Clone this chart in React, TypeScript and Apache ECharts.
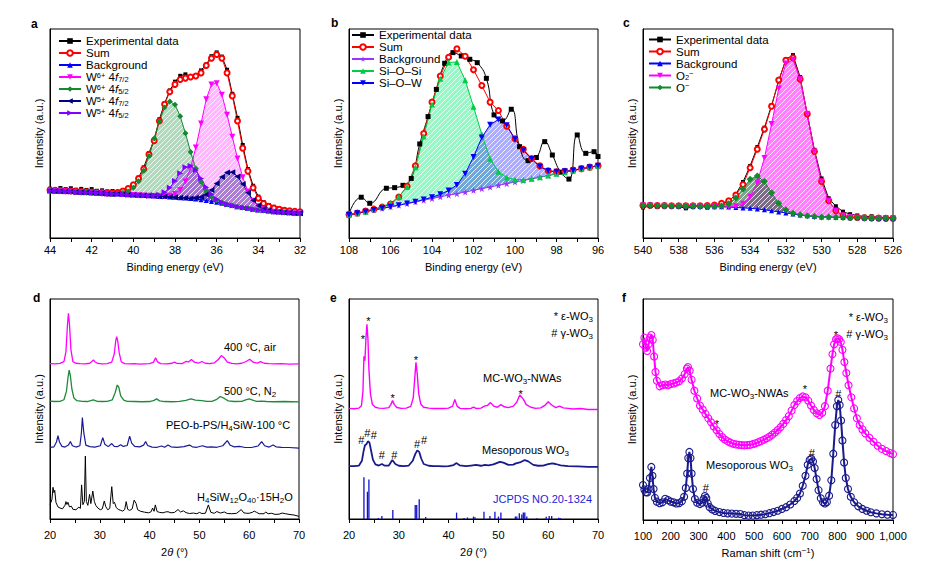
import React, { useEffect, useRef } from "react";
import * as echarts from "echarts";

// ---------------- Panel a : W 4f XPS ----------------
const aX = [44, 43.75, 43.5, 43.25, 43, 42.75, 42.5, 42.25, 42, 41.75, 41.5, 41.25, 41, 40.75, 40.5, 40.25, 40, 39.75, 39.5, 39.25, 39, 38.75, 38.5, 38.25, 38, 37.75, 37.5, 37.25, 37, 36.75, 36.5, 36.25, 36, 35.75, 35.5, 35.25, 35, 34.75, 34.5, 34.25, 34, 33.75, 33.5, 33.25, 33, 32.75, 32.5, 32.25, 32];
const aExp = [23.6, 23.2, 23.9, 23.4, 23.8, 23.1, 23.5, 23.0, 23.4, 22.6, 22.8, 22.3, 22.5, 22.2, 22.9, 24.0, 25.8, 28.9, 33.8, 40.6, 47.2, 56.8, 64.4, 70.6, 74.8, 77.6, 78.3, 77.2, 77.9, 80.2, 83.0, 87.0, 88.8, 86.8, 80.5, 69.0, 57.5, 44.5, 33.0, 25.0, 19.8, 17.2, 15.8, 14.9, 14.2, 13.7, 13.3, 13.0, 12.8];
const aSum = [22.9, 22.8, 22.7, 22.6, 22.5, 22.3, 22.2, 22.1, 22.0, 21.8, 21.7, 21.6, 21.5, 21.8, 22.5, 23.7, 25.5, 28.5, 33.0, 40.0, 46.5, 56.0, 64.0, 70.0, 73.5, 75.8, 76.5, 77.0, 77.5, 79.0, 82.5, 86.0, 87.8, 86.0, 79.0, 68.0, 56.0, 43.0, 32.0, 24.0, 19.0, 16.5, 15.2, 14.3, 13.7, 13.3, 13.0, 12.8, 12.6];
const aBg = [22.6, 22.5, 22.4, 22.3, 22.2, 22.0, 21.9, 21.8, 21.7, 21.5, 21.4, 21.2, 21.1, 21.0, 20.9, 20.7, 20.6, 20.5, 20.3, 20.2, 20.1, 19.9, 19.8, 19.6, 19.5, 19.3, 19.1, 18.9, 18.7, 18.3, 17.9, 17.5, 17.1, 16.6, 16.0, 15.5, 15.0, 14.6, 14.2, 13.8, 13.4, 13.1, 12.9, 12.6, 12.4, 12.2, 12.1, 11.9, 11.8];
// component heights above the background
const aW6f72 = [0, 0, 0, 0, 0, 0, 0, 0, 0, 0, 0, 0, 0, 0, 0, 0, 0, 0, 0, 0, 0, 0, 0.2, 0.6, 1.5, 3.7, 7.9, 14.8, 24.6, 36.5, 48.5, 56.0, 57.0, 52.0, 43.0, 33.0, 23.0, 14.5, 8.0, 4.0, 1.8, 0.7, 0, 0, 0, 0, 0, 0, 0];
const aW6f52 = [0, 0, 0, 0, 0, 0, 0, 0, 0, 0, 0, 0, 0, 0.3, 0.7, 1.6, 3.4, 6.7, 11.9, 19.0, 27.5, 36.0, 42.6, 45.7, 44.3, 39.0, 31.0, 22.3, 14.5, 8.5, 4.5, 2.2, 1.0, 0.4, 0, 0, 0, 0, 0, 0, 0, 0, 0, 0, 0, 0, 0, 0, 0];
const aW5f72 = [0, 0, 0, 0, 0, 0, 0, 0, 0, 0, 0, 0, 0, 0, 0, 0, 0, 0, 0, 0, 0, 0, 0, 0, 0, 0, 0, 0, 0.5, 1.3, 2.9, 5.5, 9.0, 12.6, 15.3, 16.0, 14.4, 11.2, 7.5, 4.3, 2.2, 0.9, 0.3, 0, 0, 0, 0, 0, 0];
const aW5f52 = [0, 0, 0, 0, 0, 0, 0, 0, 0, 0, 0, 0, 0, 0, 0, 0, 0, 0, 0, 0, 0.3, 0.8, 2.1, 4.4, 7.8, 11.7, 14.7, 15.5, 13.7, 10.2, 6.4, 3.4, 1.5, 0.5, 0.2, 0, 0, 0, 0, 0, 0, 0, 0, 0, 0, 0, 0, 0, 0];

// ---------------- Panel b : Si 2p XPS ----------------
const bX = [108, 107.6, 107.2, 106.8, 106.4, 106, 105.6, 105.2, 104.8, 104.4, 104, 103.6, 103.2, 102.8, 102.4, 102, 101.6, 101.2, 100.8, 100.4, 100, 99.6, 99.2, 98.8, 98.4, 98, 97.6, 97.2, 96.8, 96.4, 96];
const bExpPts = [[108, 11.5], [107.41, 19.5], [107.0, 16.6], [106.2, 23.8], [105.8, 24.1], [105.4, 25.2], [105.0, 28.5], [104.59, 45.0], [104.19, 58.1], [103.79, 71.1], [103.39, 83.6], [102.99, 88.7], [102.59, 87.1], [102.18, 85.5], [101.82, 83.9], [101.38, 76.4], [101.01, 58.9], [100.6, 56.0], [100.18, 61.6], [99.78, 43.7], [99.37, 37.0], [98.97, 38.5], [98.57, 46.1], [98.2, 39.7], [97.8, 31.5], [97.4, 28.2], [97.0, 49.3], [96.59, 40.5], [96.19, 41.3], [96.0, 39.0]];
const bSum = [11.2, 12.0, 12.9, 13.8, 14.8, 16.2, 19.6, 24.8, 34.5, 50.0, 65.0, 77.5, 86.5, 90.5, 87.0, 80.5, 73.0, 65.0, 61.0, 53.5, 47.5, 42.5, 38.0, 34.5, 32.2, 31.7, 31.9, 32.5, 33.2, 33.9, 34.6];
const bBg = [11.0, 11.8, 12.6, 13.4, 14.2, 14.9, 15.7, 16.5, 17.3, 18.1, 18.9, 19.7, 20.5, 21.2, 22.0, 22.8, 23.6, 24.4, 25.2, 26.0, 26.8, 27.5, 28.3, 29.1, 29.9, 30.7, 31.5, 32.3, 33.1, 33.8, 34.6];
const bSiOSi = [0, 0, 0, 0.3, 0.8, 1.8, 4.0, 8.0, 16.5, 30.5, 45.0, 56.5, 63.5, 63.0, 53.5, 40.0, 26.0, 13.5, 6.5, 3.0, 1.2, 0.4, 0, 0, 0, 0, 0, 0, 0, 0, 0];
const bSiOW = [0, 0, 0, 0, 0, 0, 0, 0, 0, 0.3, 0.6, 1.2, 2.2, 4.2, 8.8, 16.0, 24.5, 29.8, 31.5, 28.0, 20.5, 14.5, 9.5, 5.0, 2.2, 1.0, 0.4, 0, 0, 0, 0];

// ---------------- Panel c : O 1s XPS ----------------
const cX = [540, 539.6, 539.2, 538.8, 538.4, 538, 537.6, 537.2, 536.8, 536.4, 536, 535.6, 535.2, 534.8, 534.4, 534, 533.6, 533.2, 532.8, 532.4, 532, 531.6, 531.2, 530.8, 530.4, 530, 529.6, 529.2, 528.8, 528.4, 528, 527.6, 527.2, 526.8, 526.4, 526];
const cExp = [14.6, 15.3, 14.9, 15.2, 15.6, 15.0, 14.2, 14.8, 15.3, 14.5, 15.4, 16.2, 17.5, 21.0, 26.8, 34.5, 43.5, 52.8, 63.5, 75.0, 85.5, 87.5, 77.0, 59.0, 42.2, 28.5, 19.0, 15.2, 12.6, 11.4, 10.8, 10.2, 10.4, 9.8, 9.9, 9.6];
const cSum = [15.6, 15.6, 15.5, 15.5, 15.4, 15.4, 15.4, 15.4, 15.4, 15.5, 15.8, 16.6, 17.8, 20.5, 25.6, 33.6, 42.5, 52.0, 63.0, 75.6, 85.0, 86.2, 76.0, 59.3, 41.4, 27.0, 17.8, 13.0, 10.8, 10.0, 9.8, 9.7, 9.6, 9.5, 9.4, 9.4];
const cBg = [15.5, 15.5, 15.4, 15.4, 15.3, 15.3, 15.2, 15.2, 15.1, 15.1, 15.0, 14.9, 14.8, 14.6, 14.4, 14.2, 13.9, 13.5, 13.0, 12.5, 12.0, 11.5, 11.0, 10.6, 10.3, 10.1, 10.0, 9.9, 9.8, 9.7, 9.7, 9.6, 9.5, 9.5, 9.4, 9.4];
const cO2 = [0, 0, 0, 0, 0, 0, 0, 0, 0, 0, 0, 0, 0.2, 0.6, 2.0, 5.5, 12.7, 24.8, 41.5, 59.0, 71.5, 73.8, 64.9, 48.7, 31.1, 16.9, 7.8, 3.1, 1.0, 0.3, 0, 0, 0, 0, 0, 0];
const cOm = [0, 0, 0, 0, 0, 0, 0, 0, 0, 0, 0.1, 0.4, 1.6, 4.5, 9.1, 13.9, 15.8, 13.5, 8.6, 4.1, 1.5, 0.4, 0.1, 0, 0, 0, 0, 0, 0, 0, 0, 0, 0, 0, 0, 0];

// ---------------- Panel d : XRD ----------------
const d400air = [[20, 70.6], [21, 70.5], [22, 70.7], [22.8, 71.5], [23.2, 76], [23.5, 88], [23.7, 93.5], [23.9, 89], [24.2, 77], [24.6, 71.5], [25.2, 70.8], [26, 70.6], [27, 70.5], [28, 70.8], [28.5, 71.8], [28.7, 72.3], [29, 71.5], [29.6, 70.7], [30.5, 70.5], [31.5, 70.6], [32.4, 71.3], [32.9, 75], [33.2, 81], [33.4, 82.9], [33.6, 81], [33.9, 75.5], [34.3, 71.5], [35, 70.6], [36, 70.5], [37, 70.6], [38, 70.4], [39, 70.5], [40, 70.6], [40.8, 71.3], [41.2, 73.3], [41.6, 71.4], [42.2, 70.6], [43.5, 70.5], [44.5, 70.8], [45, 71.3], [45.5, 70.7], [46.5, 70.6], [47.3, 71.6], [47.8, 71.4], [48.4, 72.5], [49, 71.3], [49.8, 70.8], [50.5, 71.6], [51.2, 70.8], [52, 70.6], [53, 71], [53.8, 72.5], [54.4, 74.3], [55, 73.2], [55.6, 71.3], [56.5, 70.7], [57.5, 70.5], [58.5, 70.8], [59.4, 71.6], [60.1, 72.6], [60.8, 71.3], [61.6, 70.8], [62.3, 71.5], [63, 70.8], [64, 70.6], [65, 70.5], [66.5, 70.6], [68, 70.4], [70, 70.5]];
const d500N2 = [[20, 53.6], [21, 53.4], [22, 53.5], [22.8, 54.2], [23.3, 58], [23.6, 64], [23.85, 67.7], [24.1, 65], [24.4, 59], [24.8, 55], [25.4, 53.8], [26.5, 53.5], [27.5, 53.4], [28.7, 54.1], [29.5, 53.5], [30.5, 53.4], [31.5, 53.5], [32.5, 54.1], [33.1, 57.5], [33.5, 60.9], [33.8, 60], [34.2, 56], [34.8, 54], [35.5, 53.5], [37, 53.4], [38.5, 53.3], [40, 53.4], [40.9, 53.9], [41.4, 54.6], [42, 53.7], [43, 53.4], [44.5, 53.3], [46, 53.5], [47.3, 53.9], [48.3, 54.6], [49.2, 54], [50.5, 53.8], [51.5, 53.5], [52.5, 53.5], [53.5, 54.4], [54.2, 55.7], [55, 54.8], [55.8, 53.7], [57, 53.4], [58.5, 53.5], [59.3, 54.1], [60, 54.6], [60.7, 54], [61.5, 53.5], [62.5, 53.6], [63.5, 53.4], [65, 53.3], [67, 53.4], [70, 53.2]];
const dPEO = [[20, 32.6], [20.8, 32.8], [21.3, 35], [21.6, 37.9], [21.9, 35], [22.4, 33], [23, 32.7], [23.7, 33.6], [24.1, 35.2], [24.5, 33.3], [25.2, 32.7], [26, 33.3], [26.3, 39], [26.5, 46.1], [26.8, 39], [27.2, 33.6], [28, 32.9], [29, 32.7], [30.1, 33.3], [30.6, 37], [31, 34], [31.7, 32.9], [32.4, 34.3], [32.9, 33], [33.6, 32.9], [34.2, 33.8], [34.7, 33], [35.5, 33.4], [36, 37.7], [36.4, 34.5], [37, 33], [38, 32.8], [38.8, 33.6], [39.2, 35.2], [39.6, 33.4], [40.5, 32.7], [41.5, 32.6], [42.4, 33.2], [43, 32.6], [43.7, 33.6], [44.3, 32.8], [45.5, 32.6], [46.9, 32.9], [48, 33.6], [48.6, 32.8], [49.5, 32.6], [50.6, 33.3], [51.5, 32.7], [52.5, 32.8], [53.5, 32.6], [54.7, 33.3], [55.6, 35.6], [56.2, 33.5], [57, 32.8], [58, 33], [59, 32.6], [60.5, 32.5], [61.8, 33.2], [62.5, 35.2], [63.1, 33.3], [64, 32.7], [64.8, 33.6], [65.4, 32.8], [66.5, 32.6], [68, 32.5], [70, 32.2]];
const dH4SiW = [[20, 6.4], [20.4, 9], [20.6, 14.4], [20.8, 12], [20.95, 13], [21.2, 7.5], [21.6, 5.5], [22, 5.0], [22.5, 4.6], [23.0, 6.2], [23.2, 7.9], [23.4, 6.6], [23.6, 7.6], [23.9, 5.5], [24.3, 5.8], [24.6, 4.4], [25.2, 4.2], [25.8, 5.4], [26.1, 4.8], [26.35, 15.5], [26.6, 6.5], [26.9, 8], [27.1, 28.6], [27.3, 8], [27.6, 6.2], [27.95, 11.2], [28.2, 7], [28.6, 12.7], [28.9, 8], [29.2, 6.2], [29.6, 5.0], [30.1, 4.2], [30.5, 4.6], [30.9, 8.2], [31.2, 5.6], [31.6, 4.2], [32.0, 4.8], [32.4, 14.7], [32.7, 7], [32.95, 7.6], [33.3, 5.2], [33.7, 4.4], [34.1, 4.0], [34.6, 3.6], [35.0, 4.3], [35.3, 7.9], [35.6, 4.4], [36.0, 3.9], [36.5, 4.6], [36.9, 8.6], [37.3, 7], [37.6, 4.2], [38.2, 3.5], [39, 3.1], [39.8, 2.8], [40.3, 3.3], [40.6, 5.0], [40.9, 3.5], [41.15, 6.4], [41.5, 3.4], [42, 3.0], [42.7, 2.8], [43.2, 3.2], [43.7, 3.3], [44.3, 2.8], [45, 3.0], [45.7, 4.3], [46.2, 3.2], [46.8, 3.7], [47.3, 2.9], [48, 2.5], [48.8, 2.7], [49.5, 2.4], [50.0, 3.0], [50.5, 2.5], [51.2, 2.6], [51.8, 6.4], [52.3, 3.0], [53, 2.6], [53.5, 3.4], [54.2, 2.7], [55, 3.2], [55.6, 2.5], [56.5, 2.4], [57.5, 2.6], [58.4, 4.3], [58.9, 2.8], [59.5, 2.6], [60, 2.6], [60.7, 3.1], [61, 3.6], [61.5, 3.0], [62, 2.4], [63, 2.4], [63.3, 3.2], [63.8, 2.4], [64.5, 2.6], [65.2, 2.1], [66, 2.2], [66.6, 2.7], [67.3, 2.4], [68, 2.1], [69, 1.8], [70, 1.2]];

// ---------------- Panel e : XRD ----------------
const eMC = [[20, 50.3], [21, 50.1], [22, 50.4], [22.5, 51.5], [22.8, 58], [23.0, 74], [23.2, 72], [23.4, 82], [23.6, 88.5], [23.8, 82], [24.0, 68], [24.3, 57], [24.7, 52], [25.3, 50.8], [26, 50.4], [27, 50.3], [28, 50.6], [28.4, 52], [28.75, 53.8], [29.1, 52], [29.6, 50.7], [30.5, 50.3], [31.5, 50.4], [32.4, 51.2], [32.9, 55], [33.2, 64], [33.45, 71.2], [33.7, 66], [34.0, 57], [34.4, 52.3], [35, 50.8], [36, 50.4], [37, 50.2], [38, 50.3], [39, 50.2], [40, 50.4], [40.8, 51.3], [41.25, 54.3], [41.7, 51.3], [42.3, 50.3], [43.5, 50.1], [44.5, 50.3], [45.0, 50.9], [45.6, 50.2], [46.5, 50.4], [47.3, 51.4], [47.8, 51.6], [48.4, 52.9], [49.1, 51.3], [49.8, 50.8], [50.5, 52.0], [51.2, 51.0], [52, 50.6], [53, 51.3], [53.7, 53.2], [54.3, 56.4], [55, 54.5], [55.6, 52.0], [56.5, 50.8], [57.5, 50.3], [58.5, 50.5], [59.4, 51.8], [60.0, 53.3], [60.7, 51.8], [61.5, 50.6], [62.3, 51.3], [63, 50.5], [64, 50.3], [65, 50.0], [66.5, 50.2], [68, 49.8], [70, 49.8]];
const eMeso = [[20, 24.0], [21, 24.0], [22, 24.3], [22.6, 26.5], [22.9, 30.5], [23.2, 33.5], [23.5, 34.0], [23.8, 35.3], [24.1, 34.8], [24.4, 31.5], [24.8, 27], [25.3, 24.8], [26, 24.3], [26.6, 25.0], [27.1, 24.3], [28, 24.3], [28.7, 26.8], [29.3, 25.0], [30, 24.2], [31, 24.0], [32, 24.3], [32.8, 26.5], [33.3, 29.5], [33.7, 31.2], [34.1, 30.5], [34.5, 27.5], [35, 25.0], [36, 24.2], [37, 24.0], [38, 24.0], [39, 23.9], [40, 24.0], [41, 24.5], [41.6, 25.4], [42.2, 24.4], [43.5, 24.0], [44.5, 24.3], [45.5, 24.6], [46.5, 24.2], [47.3, 24.6], [48, 24.4], [49, 24.8], [50.3, 26.0], [51, 25.6], [52, 24.6], [53, 24.7], [53.5, 25.3], [54.5, 25.9], [55.3, 26.8], [56, 26.2], [57, 24.6], [58, 24.2], [59, 24.3], [60, 24.9], [60.8, 25.3], [61.5, 25.0], [62.5, 24.4], [64, 24.0], [66, 23.9], [68, 23.7], [70, 23.7]];
const eJCPDS = [[23.0, 19.0], [23.7, 12.4], [24.0, 18.0], [25.9, 0.5], [26.6, 1.4], [28.8, 4.1], [33.3, 6.4], [33.6, 6.4], [34.1, 9.0], [35.4, 0.9], [41.6, 2.9], [43.1, 0.5], [43.8, 0.7], [45.0, 1.1], [45.3, 0.8], [47.1, 3.3], [48.3, 1.4], [49.3, 3.3], [50.0, 1.1], [50.5, 2.9], [53.4, 1.1], [53.7, 1.1], [54.2, 2.6], [54.7, 2.1], [55.0, 2.9], [55.3, 2.9], [55.7, 1.1], [57.7, 0.3], [59.6, 1.0], [60.2, 1.4], [60.7, 1.4], [62.1, 0.6], [62.4, 0.4]];

// ---------------- Panel f : Raman ----------------
const fMC = [[100, 79.5], [105, 82.5], [110, 78.0], [115, 76.5], [120, 79.5], [125, 82.5], [130, 83.7], [135, 81.5], [140, 74.0], [145, 67.0], [150, 63.0], [160, 60.5], [170, 61.0], [180, 61.3], [190, 61.0], [200, 61.5], [210, 61.8], [220, 62.2], [230, 62.8], [240, 64.0], [250, 66.0], [258, 68.5], [262, 69.2], [268, 67.5], [275, 63.5], [285, 58.5], [295, 55.0], [305, 51.8], [315, 50.0], [325, 48.0], [335, 46.0], [345, 44.2], [355, 42.3], [365, 40.6], [375, 38.9], [385, 37.5], [395, 36.4], [405, 35.6], [415, 35.0], [425, 34.5], [435, 34.2], [445, 34.0], [455, 33.9], [465, 33.8], [475, 33.9], [485, 34.0], [495, 34.3], [505, 34.7], [515, 35.2], [525, 35.7], [535, 36.3], [545, 37.0], [555, 37.7], [565, 38.6], [575, 39.6], [585, 40.7], [595, 42.0], [605, 43.5], [615, 45.2], [625, 47.0], [635, 49.5], [645, 52.0], [655, 53.8], [665, 55.2], [675, 55.9], [685, 55.5], [695, 54.0], [705, 51.8], [715, 49.8], [725, 48.3], [735, 47.5], [745, 48.5], [755, 51.5], [765, 58.5], [775, 68.5], [782, 75.0], [788, 79.5], [795, 81.8], [800, 82.2], [806, 81.8], [812, 80.5], [818, 77.0], [825, 71.5], [832, 66.5], [840, 61.0], [850, 55.5], [860, 50.5], [870, 46.0], [880, 43.0], [890, 41.0], [900, 39.2], [915, 37.2], [930, 35.4], [945, 33.6], [960, 32.2], [975, 31.2], [990, 30.3], [1000, 29.8]];
const fMeso = [[100, 15.8], [105, 13.8], [110, 12.6], [115, 12.5], [120, 14.0], [125, 19.0], [130, 24.0], [134, 20.0], [138, 14.0], [143, 10.0], [150, 8.3], [160, 7.6], [170, 8.0], [180, 9.6], [190, 9.0], [200, 8.3], [210, 8.0], [220, 7.5], [230, 7.6], [240, 8.5], [248, 10.5], [254, 14.5], [259, 21.0], [263, 28.0], [267, 30.8], [271, 28.0], [275, 21.0], [280, 14.0], [287, 9.5], [295, 7.8], [305, 7.2], [313, 7.8], [318, 9.5], [323, 10.8], [328, 10.0], [333, 7.5], [340, 5.8], [350, 4.8], [360, 4.1], [375, 3.6], [390, 3.2], [405, 3.0], [420, 2.9], [435, 2.8], [450, 2.7], [465, 2.2], [480, 2.0], [495, 2.0], [510, 2.2], [525, 2.4], [540, 2.6], [555, 3.1], [570, 3.6], [585, 4.2], [600, 5.0], [615, 5.8], [630, 7.0], [645, 8.6], [655, 10.0], [665, 12.0], [675, 15.5], [685, 20.0], [693, 25.0], [700, 27.2], [706, 27.7], [712, 26.5], [718, 23.5], [725, 18.5], [732, 13.5], [740, 9.8], [748, 8.0], [755, 7.5], [762, 8.2], [770, 11.0], [778, 18.0], [785, 30.0], [792, 43.0], [798, 51.5], [803, 54.3], [808, 52.0], [813, 45.0], [818, 36.0], [824, 26.0], [830, 19.0], [838, 14.0], [848, 10.5], [860, 8.0], [875, 6.2], [890, 5.0], [905, 4.2], [920, 3.5], [940, 3.0], [960, 2.6], [980, 2.4], [1000, 2.3]];

// ---------------- styling ----------------
const FONT = "'Liberation Sans', Arial, Helvetica, sans-serif";
const F11 = `11px ${FONT}`;
const BLACK = "#000";

const LABELS: Record<string, string> = {
  a_exp: "Experimental data", a_sum: "Sum", a_bg: "Background",
  a_w6_72: "W{sup|6+} 4{it|f}{sub|7/2}", a_w6_52: "W{sup|6+} 4{it|f}{sub|5/2}",
  a_w5_72: "W{sup|5+} 4{it|f}{sub|7/2}", a_w5_52: "W{sup|5+} 4{it|f}{sub|5/2}",
  b_exp: "Experimental data", b_sum: "Sum", b_bg: "Background", b_sisi: "Si–O–Si", b_siw: "Si–O–W",
  c_exp: "Experimental data", c_sum: "Sum", c_bg: "Background", c_o2: "O{sub|2}{sup|−}", c_o: "O{sup|−}",
};

const RICH_LEG: any = {
  sup: { fontSize: 7.5, fontFamily: FONT, color: BLACK, verticalAlign: "top", lineHeight: 7 },
  sub: { fontSize: 7.5, fontFamily: FONT, color: BLACK, verticalAlign: "bottom", lineHeight: 7 },
  it: { fontSize: 11.5, fontFamily: FONT, color: BLACK, fontStyle: "italic", lineHeight: 12 },
};
const RICH_TXT: any = {
  sub: { fontSize: 8, fontFamily: FONT, fill: BLACK, color: BLACK, verticalAlign: "bottom", lineHeight: 8 },
  sup: { fontSize: 8, fontFamily: FONT, fill: BLACK, color: BLACK, verticalAlign: "top", lineHeight: 8 },
  it: { fontSize: 11, fontFamily: FONT, fontStyle: "italic", color: BLACK, lineHeight: 14 },
};

const STAR = "path://M50,0 L61,35 L98,35 L68,57 L79,91 L50,70 L21,91 L32,57 L2,35 L39,35 Z";

function hatch(fill: string): any {
  const s = 5;
  const c = document.createElement("canvas");
  c.width = s;
  c.height = s;
  const g = c.getContext("2d");
  if (!g) return fill;
  g.fillStyle = fill;
  g.fillRect(0, 0, s, s);
  g.strokeStyle = "rgba(255,255,255,0.8)";
  g.lineWidth = 1;
  g.beginPath();
  g.moveTo(0, s);
  g.lineTo(s, 0);
  g.stroke();
  return { image: c.toDataURL(), repeat: "repeat", imageWidth: s, imageHeight: s };
}

const zip = (xs: number[], ys: number[]) => xs.map((x, i) => [x, ys[i]]);
const add = (a: number[], b: number[]) => a.map((v, i) => v + b[i]);

function line(name: string, g: number, data: any[], color: string, symbol: string, size: number, extra: any = {}) {
  return {
    type: "line", name, xAxisIndex: g, yAxisIndex: g, data,
    symbol, symbolSize: size, showSymbol: symbol !== "none",
    itemStyle: { color }, lineStyle: { color, width: 1 },
    emphasis: { disabled: true }, z: 3, ...extra,
  };
}

function fillArea(g: number, xs: number[], lo: number[], hi: number[], pattern: any) {
  return {
    type: "custom", xAxisIndex: g, yAxisIndex: g, silent: true, z: 2,
    data: [[xs[0], lo[0]]],
    renderItem: (_p: any, api: any) => {
      const pts: number[][] = [];
      for (let i = 0; i < xs.length; i++) pts.push(api.coord([xs[i], hi[i]]));
      for (let i = xs.length - 1; i >= 0; i--) pts.push(api.coord([xs[i], lo[i]]));
      return { type: "polygon", shape: { points: pts }, style: { fill: pattern, stroke: null } };
    },
  };
}

function xAx(g: number, min: number, max: number, interval: number, inverse: boolean, name: string, margin: number, nameGap: number, fmt?: any) {
  return {
    type: "value", gridIndex: g, min, max, interval, inverse,
    name, nameLocation: "middle", nameGap,
    nameTextStyle: { fontSize: 11, fontFamily: FONT, color: BLACK, lineHeight: 14, rich: RICH_TXT },
    axisLine: { show: true, onZero: false, lineStyle: { color: BLACK, width: 1 } },
    axisTick: { show: true, inside: false, length: 4, lineStyle: { color: BLACK, width: 1 } },
    minorTick: { show: true, splitNumber: 2, length: 4, lineStyle: { color: BLACK, width: 1 } },
    axisLabel: { color: BLACK, fontSize: 11, fontFamily: FONT, margin, formatter: fmt },
    splitLine: { show: false }, minorSplitLine: { show: false },
  };
}
function yAx(g: number) {
  return {
    type: "value", gridIndex: g, min: 0, max: 100,
    name: "Intensity (a.u.)", nameLocation: "middle", nameGap: 6,
    nameTextStyle: { fontSize: 11, fontFamily: FONT, color: BLACK },
    axisLine: { show: true, onZero: false, lineStyle: { color: BLACK, width: 1 } },
    axisTick: { show: false }, axisLabel: { show: false }, splitLine: { show: false },
  };
}

function legend(left: number, top: number, data: string[]) {
  return {
    orient: "vertical", left, top, padding: 0, itemGap: 0, itemWidth: 22, itemHeight: 7,
    selectedMode: false, data,
    formatter: (n: string) => LABELS[n] || n,
    textStyle: { fontSize: 11.5, fontFamily: FONT, color: BLACK, lineHeight: 11.7, rich: RICH_LEG },
  };
}

function txt(x: number, y: number, text: string, extra: any = {}) {
  return {
    type: "text", x, y, silent: true,
    style: { text, font: F11, fill: BLACK, textAlign: "left", textVerticalAlign: "middle", verticalAlign: "middle", lineHeight: 14, rich: RICH_TXT, ...extra },
  };
}

function buildOption() {
  const grids = [
    { left: 50, top: 29, width: 250, height: 209 },
    { left: 349, top: 29, width: 249, height: 209 },
    { left: 643, top: 29, width: 250, height: 209 },
    { left: 50, top: 299, width: 249, height: 220 },
    { left: 349, top: 299, width: 249, height: 220 },
    { left: 643, top: 299, width: 250, height: 221 },
  ].map((g) => ({ ...g, show: true, borderColor: BLACK, borderWidth: 1, backgroundColor: "transparent" }));

  const S: any[] = [];
  // ----- a -----
  S.push(fillArea(0, aX, aBg, add(aBg, aW6f72), hatch("rgba(255,0,255,0.28)")));
  S.push(fillArea(0, aX, aBg, add(aBg, aW6f52), hatch("rgba(0,128,40,0.30)")));
  S.push(fillArea(0, aX, aBg, add(aBg, aW5f72), hatch("rgba(0,0,128,0.32)")));
  S.push(fillArea(0, aX, aBg, add(aBg, aW5f52), hatch("rgba(128,0,255,0.32)")));
  S.push(line("a_exp", 0, zip(aX, aExp), "#000000", "rect", 4));
  S.push(line("a_sum", 0, zip(aX, aSum), "#ff0000", "emptyCircle", 5));
  S.push(line("a_bg", 0, zip(aX, aBg), "#0000ff", "triangle", 5));
  S.push(line("a_w6_72", 0, zip(aX, add(aBg, aW6f72)), "#ff00ff", "triangle", 6, { symbolRotate: 180 }));
  S.push(line("a_w6_52", 0, zip(aX, add(aBg, aW6f52)), "#138a2e", "diamond", 6));
  S.push(line("a_w5_72", 0, zip(aX, add(aBg, aW5f72)), "#000080", "triangle", 6, { symbolRotate: 90 }));
  S.push(line("a_w5_52", 0, zip(aX, add(aBg, aW5f52)), "#8000ff", "triangle", 6, { symbolRotate: -90 }));
  // ----- b -----
  S.push(fillArea(1, bX, bBg, add(bBg, bSiOSi), hatch("rgba(0,235,110,0.40)")));
  S.push(fillArea(1, bX, bBg, add(bBg, bSiOW), hatch("rgba(40,40,255,0.38)")));
  S.push(line("b_exp", 1, bExpPts, "#000000", "rect", 5, { smooth: 0.5 }));
  S.push(line("b_sum", 1, zip(bX, bSum), "#ff0000", "emptyCircle", 5));
  S.push(line("b_bg", 1, zip(bX, bBg), "#9933ff", STAR, 7));
  S.push(line("b_sisi", 1, zip(bX, add(bBg, bSiOSi)), "#00cc44", "triangle", 6));
  S.push(line("b_siw", 1, zip(bX, add(bBg, bSiOW)), "#0000ff", "triangle", 6, { symbolRotate: 180 }));
  // ----- c -----
  S.push(fillArea(2, cX, cBg, add(cBg, cO2), hatch("rgba(255,0,255,0.50)")));
  S.push(fillArea(2, cX, cBg, add(cBg, cOm), hatch("rgba(20,90,40,0.55)")));
  S.push(line("c_exp", 2, zip(cX, cExp), "#000000", "rect", 4));
  S.push(line("c_sum", 2, zip(cX, cSum), "#ff0000", "emptyCircle", 5));
  S.push(line("c_bg", 2, zip(cX, cBg), "#0000ff", "triangle", 5));
  S.push(line("c_o2", 2, zip(cX, add(cBg, cO2)), "#ff00ff", "triangle", 6, { symbolRotate: 180 }));
  S.push(line("c_o", 2, zip(cX, add(cBg, cOm)), "#138a2e", "diamond", 7));
  // ----- d -----
  S.push(line("d_400", 3, d400air, "#ff00ff", "none", 0, { lineStyle: { color: "#ff00ff", width: 1.3 } }));
  S.push(line("d_500", 3, d500N2, "#1f8a3c", "none", 0, { lineStyle: { color: "#1f8a3c", width: 1.3 } }));
  S.push(line("d_peo", 3, dPEO, "#1a1a99", "none", 0, { lineStyle: { color: "#1a1a99", width: 1.2 } }));
  S.push(line("d_h4", 3, dH4SiW, "#000000", "none", 0, { lineStyle: { color: "#000000", width: 1 } }));
  // ----- e -----
  S.push(line("e_mc", 4, eMC, "#ff00ff", "none", 0, { lineStyle: { color: "#ff00ff", width: 1.4 } }));
  S.push(line("e_meso", 4, eMeso, "#1a1a8c", "none", 0, { lineStyle: { color: "#1a1a8c", width: 1.8 } }));
  S.push({ type: "bar", name: "e_jcpds", xAxisIndex: 4, yAxisIndex: 4, data: eJCPDS, barWidth: 1.3, itemStyle: { color: "#1010cc" }, emphasis: { disabled: true }, z: 3 });
  // ----- f -----
  const ring = (c: string) => ({ symbol: "circle", symbolSize: 7, itemStyle: { color: "rgba(255,255,255,0)", borderColor: c, borderWidth: 1.1 }, lineStyle: { color: c, width: 2 } });
  S.push(line("f_mc", 5, fMC, "#ff00ff", "circle", 7, ring("#ff00ff")));
  S.push(line("f_meso", 5, fMeso, "#1a1a8c", "circle", 7, ring("#1a1a8c")));

  const xAxis = [
    xAx(0, 32, 44, 2, true, "Binding energy (eV)", 6, 22),
    xAx(1, 96, 108, 2, true, "Binding energy (eV)", 6, 22),
    xAx(2, 526, 540, 2, true, "Binding energy (eV)", 6, 22),
    xAx(3, 20, 70, 10, false, "2{it|θ} (°)", 10, 26),
    xAx(4, 20, 70, 10, false, "2{it|θ} (°)", 10, 26),
    xAx(5, 100, 1000, 100, false, "Raman shift (cm{sup|−1})", 10, 26, (v: number) => (v === 1000 ? "1,000" : String(v))),
  ];
  const yAxis = [0, 1, 2, 3, 4, 5].map(yAx);

  const bold = `bold 12px ${FONT}`;
  const graphic: any[] = [
    txt(31, 24, "a", { font: bold }), txt(331, 23, "b", { font: bold }), txt(623, 23, "c", { font: bold }),
    txt(33, 298, "d", { font: bold }), txt(330, 298, "e", { font: bold }), txt(622, 298, "f", { font: bold }),
    // d
    txt(224, 347, "400 °C, air"),
    txt(224, 391, "500 °C, N{sub|2}"),
    txt(166, 425, "PEO-b-PS/H{sub|4}SiW-100 °C"),
    txt(197, 497, "H{sub|4}SiW{sub|12}O{sub|40}·15H{sub|2}O"),
    // e
    txt(593, 316, "* ε-WO{sub|3}", { textAlign: "right" }),
    txt(593, 333, "# γ-WO{sub|3}", { textAlign: "right" }),
    txt(483, 378, "MC-WO{sub|3}-NWAs"),
    txt(482, 450, "Mesoporous WO{sub|3}"),
    txt(493, 499, "JCPDS NO.20-1324", { fill: "#2424d8" }),
    txt(363, 339, "*", { textAlign: "center" }), txt(368.5, 321, "*", { textAlign: "center" }),
    txt(392.7, 398, "*", { textAlign: "center" }), txt(416, 360, "*", { textAlign: "center" }),
    txt(520.7, 394, "*", { textAlign: "center" }),
    txt(361.2, 439.5, "#", { textAlign: "center" }), txt(367.3, 432.5, "#", { textAlign: "center" }),
    txt(373.8, 434.5, "#", { textAlign: "center" }), txt(381.7, 455, "#", { textAlign: "center" }),
    txt(394.3, 455, "#", { textAlign: "center" }), txt(417, 444, "#", { textAlign: "center" }),
    txt(424, 440, "#", { textAlign: "center" }),
    // f
    txt(888, 317, "* ε-WO{sub|3}", { textAlign: "right" }),
    txt(888, 334, "# γ-WO{sub|3}", { textAlign: "right" }),
    txt(710, 393, "MC-WO{sub|3}-NWAs"),
    txt(706, 465, "Mesoporous WO{sub|3}"),
    txt(836, 335, "*", { textAlign: "center" }), txt(805, 389, "*", { textAlign: "center" }),
    txt(717, 424, "*", { textAlign: "center" }),
    txt(838.3, 394, "#", { textAlign: "center" }), txt(811.7, 453, "#", { textAlign: "center" }),
    txt(705.7, 488, "#", { textAlign: "center" }),
  ];

  return {
    animation: false,
    backgroundColor: "#ffffff",
    textStyle: { fontFamily: FONT },
    grid: grids,
    xAxis,
    yAxis,
    legend: [
      legend(58, 35, ["a_exp", "a_sum", "a_bg", "a_w6_72", "a_w6_52", "a_w5_72", "a_w5_52"]),
      legend(351, 29, ["b_exp", "b_sum", "b_bg", "b_sisi", "b_siw"]),
      legend(648, 33.5, ["c_exp", "c_sum", "c_bg", "c_o2", "c_o"]),
    ],
    series: S,
    graphic,
  };
}

export default function App() {
  const ref = useRef<HTMLDivElement>(null);
  useEffect(() => {
    if (!ref.current) return;
    const chart = echarts.init(ref.current, null, { renderer: "svg" });
    chart.setOption(buildOption() as any);
    return () => chart.dispose();
  }, []);
  return <div ref={ref} style={{ position: "fixed", left: 0, top: 0, width: 952, height: 568, background: "#fff" }} />;
}
